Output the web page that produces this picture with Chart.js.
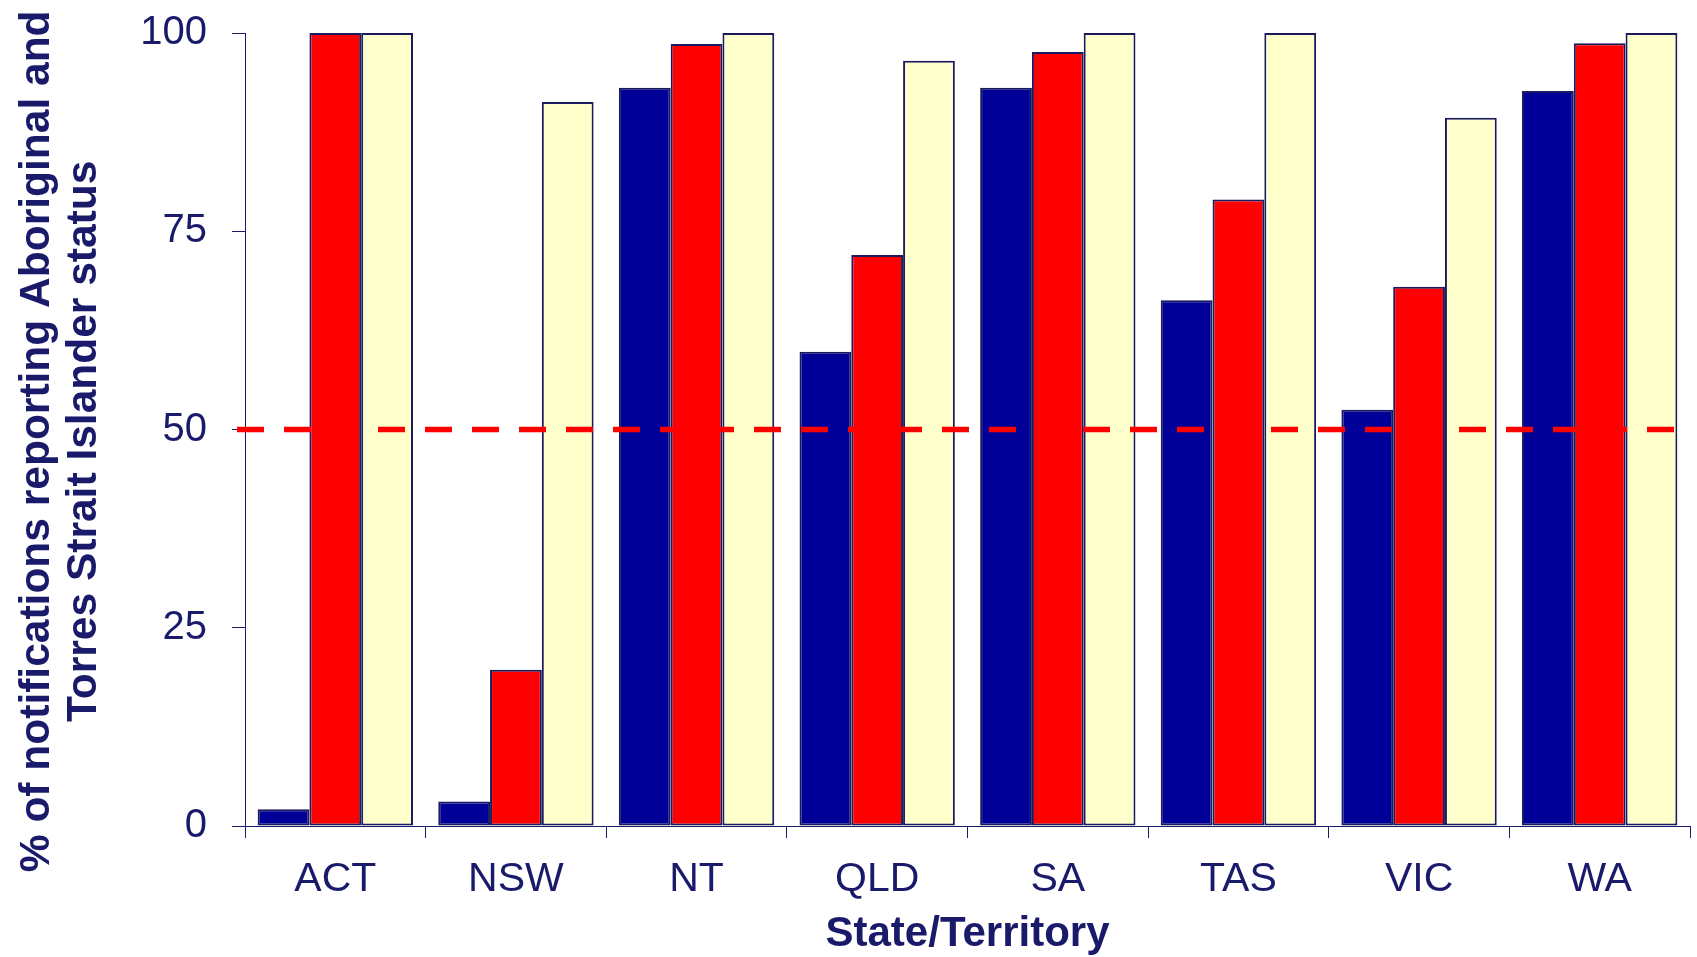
<!DOCTYPE html>
<html>
<head>
<meta charset="utf-8">
<script src="https://cdn.jsdelivr.net/npm/chart.js@4"></script>
<style>
  html, body { margin: 0; padding: 0; background: #ffffff; }
  #wrap { width: 1697px; height: 957px; position: relative; }
</style>
</head>
<body>
<div id="wrap"><canvas id="c" width="1697" height="957"></canvas></div>
<script>
const categories = ['ACT', 'NSW', 'NT', 'QLD', 'SA', 'TAS', 'VIC', 'WA'];
const seriesBlue = [2.1, 3.1, 93.1, 59.8, 93.1, 66.3, 52.5, 92.7];
const seriesRed = [100, 19.7, 98.6, 72.0, 97.6, 79.0, 68.0, 98.7];
const seriesYellow = [100, 91.3, 100, 96.5, 100, 100, 89.3, 100];
const yTicks = [0, 25, 50, 75, 100];
const threshold = 50;
const xTitle = 'State/Territory';
const yTitle = ['% of notifications reporting Aboriginal and  ', 'Torres Strait Islander status  '];

const NAVY = '#1a1a6b';
const BORDER = '#1a1a5e';

const thresholdLine = {
  id: 'thresholdLine',
  afterDatasetsDraw(chart) {
    const { ctx, chartArea, scales } = chart;
    const y = scales.y.getPixelForValue(threshold);
    ctx.save();
    ctx.strokeStyle = '#ff0000';
    ctx.lineWidth = 5.5;
    ctx.setLineDash([27, 20]);
    ctx.beginPath();
    ctx.moveTo(chartArea.left - 8, y);
    ctx.lineTo(chartArea.right, y);
    ctx.stroke();
    ctx.restore();
  }
};

const mkDs = (label, data, color) => ({
  label, data,
  backgroundColor: color,
  borderColor: BORDER,
  borderWidth: 2,
  borderSkipped: false,
  categoryPercentage: 0.86,
  barPercentage: 1.0
});

new Chart(document.getElementById('c'), {
  type: 'bar',
  data: {
    labels: categories,
    datasets: [
      mkDs('Series 1', seriesBlue, '#000099'),
      mkDs('Series 2', seriesRed, '#ff0000'),
      mkDs('Series 3', seriesYellow, '#ffffcc')
    ]
  },
  options: {
    responsive: false,
    animation: false,
    layout: { padding: { top: 33, right: 7, left: 0, bottom: 0 } },
    plugins: { legend: { display: false }, tooltip: { enabled: false } },
    scales: {
      x: {
        grid: { display: true, drawOnChartArea: false, drawTicks: true, tickLength: 12, color: NAVY, lineWidth: 1, offset: true },
        border: { display: true, color: NAVY, width: 1 },
        ticks: { color: NAVY, font: { family: 'Liberation Sans', size: 41 }, padding: 17, maxRotation: 0 },
        title: { display: true, text: xTitle, color: NAVY, font: { family: 'Liberation Sans', size: 42, weight: 'bold', lineHeight: 1.0 }, padding: { top: 0, bottom: 2 } },
        afterFit(s) { s.height = 131; }
      },
      y: {
        min: 0, max: 100,
        afterBuildTicks(s) { s.ticks = yTicks.map(v => ({ value: v })); },
        grid: { display: true, drawOnChartArea: false, drawTicks: true, tickLength: 13, color: NAVY, lineWidth: 1 },
        border: { display: true, color: NAVY, width: 1 },
        ticks: { color: NAVY, font: { family: 'Liberation Sans', size: 40 }, padding: 25 },
        title: { display: true, text: yTitle, color: NAVY, font: { family: 'Liberation Sans', size: 42.5, weight: 'bold', lineHeight: 1.11 }, padding: { top: 14, bottom: 0 } },
        afterFit(s) { s.width = 245; s.paddingTop = 0; s.paddingBottom = 0; }
      }
    }
  },
  plugins: [thresholdLine]
});
</script>
</body>
</html>
